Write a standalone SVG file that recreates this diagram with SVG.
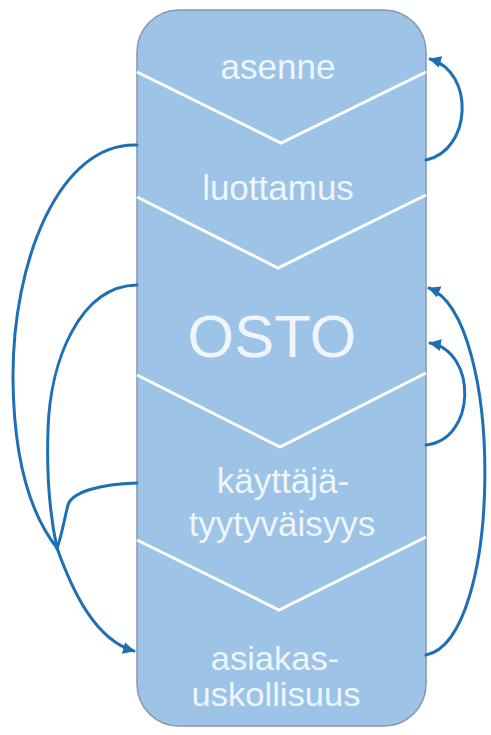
<svg xmlns="http://www.w3.org/2000/svg" width="491" height="735" viewBox="0 0 491 735">
  <style>
    .box { fill: #9dc3e6; stroke: #8797ad; stroke-width: 1.5; }
    .chev { fill: none; stroke: #ffffff; stroke-width: 3; stroke-linejoin: miter; }
    .lbl { font-family: "Liberation Sans", Arial, sans-serif; fill: #eef5fc; text-anchor: middle; font-size: 35px; }
    .big { font-size: 60px; }
    .tight { font-size: 32px; }
    .link { fill: none; stroke: #1f6fb5; stroke-width: 3; stroke-linecap: round; }
  </style>
  <defs>
    <marker id="arrow" markerUnits="userSpaceOnUse" markerWidth="14" markerHeight="14" refX="11" refY="6" orient="auto">
      <path d="M0,0 L12,6 L0,12 z" fill="#1f6fb5"/>
    </marker>
  </defs>

  <rect width="491" height="735" fill="#ffffff"/>

  <!-- stage column -->
  <g id="column">
    <rect class="box" x="137" y="10" width="289" height="716" rx="42" ry="42"/>
    <polyline class="chev" points="137,72 281,143 426,72"/>
    <polyline class="chev" points="137,197 278,268 426,195"/>
    <polyline class="chev" points="137,375 280,447 426,373"/>
    <polyline class="chev" points="137,540 279,610 426,537"/>
  </g>

  <g id="asenne"><text class="lbl" x="278" y="79">asenne</text></g>
  <g id="luottamus"><text class="lbl" x="278" y="200">luottamus</text></g>
  <g id="osto"><text class="lbl big" x="272" y="357">OSTO</text></g>
  <g id="kayttajatyytyvaisyys">
    <text class="lbl" x="283" y="493">käyttäjä-</text>
    <text class="lbl" x="282" y="536">tyytyväisyys</text>
  </g>
  <g id="asiakasuskollisuus">
    <text class="lbl tight" transform="translate(275,670) scale(1.08,1.05)">asiakas-</text>
    <text class="lbl tight" transform="translate(276,706) scale(1.08,1.05)">uskollisuus</text>
  </g>

  <!-- feedback connectors -->
  <g id="connectors">
    <path class="link" d="M137,145 C60,142 12,260 13,380 C14,470 35,520 57,548"/>
    <path class="link" d="M137,285 C80,286 50,360 48,430 C46,490 52,525 57,548"/>
    <path class="link" d="M137,483 C100,484 72,492 68,505 C64,520 62,535 57,548"/>
    <path class="link" d="M57,548 C72,590 95,640 134,651" marker-end="url(#arrow)"/>

    <path class="link" d="M426,160 C472,150 475,72 430,59" marker-end="url(#arrow)"/>
    <path class="link" d="M426,445 C476,440 478,352 430,343" marker-end="url(#arrow)"/>
    <path class="link" d="M426,655 C503,640 505,318 429,288" marker-end="url(#arrow)"/>
  </g>
</svg>
